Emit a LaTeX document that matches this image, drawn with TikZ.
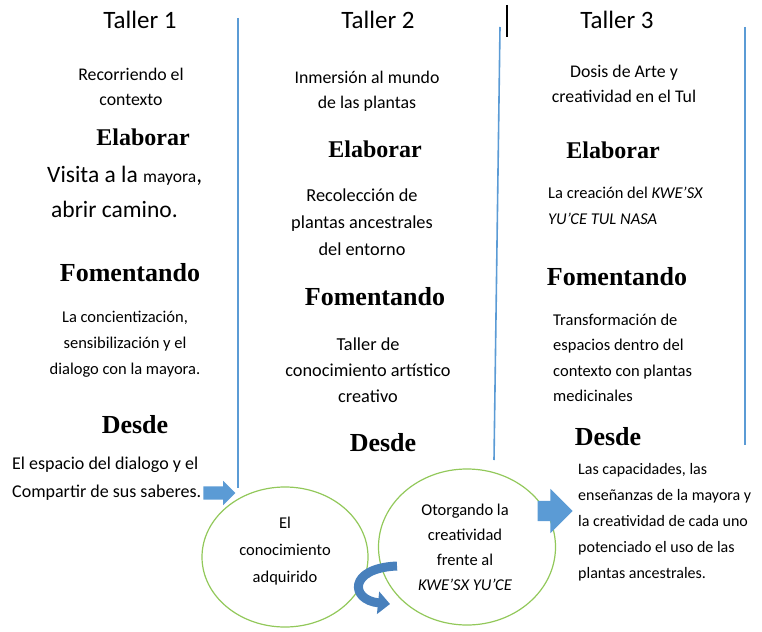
\documentclass[tikz,border=0pt]{standalone}
\usepackage{fontspec}
\setmainfont{Carlito}
\newfontfamily\headfont{Liberation Serif}
\usepackage{tikz}
\usetikzlibrary{arrows.meta}
\usetikzlibrary{shapes.geometric,shapes.arrows}
\definecolor{ruleblue}{RGB}{91,155,213}
\definecolor{bubblegreen}{RGB}{146,200,90}
\definecolor{curveblue}{RGB}{72,128,188}
\tikzstyle{Title}=[font=\fontsize{25}{30}\selectfont]
\tikzstyle{Head}=[font=\headfont\bfseries\fontsize{26}{30}\selectfont]
\tikzstyle{Sub}=[font=\fontsize{17.8}{25}\selectfont, align=center, inner sep=0pt]
\tikzstyle{Body}=[font=\fontsize{16.5}{26}\selectfont, align=center, inner sep=0pt]
\tikzstyle{BodyL}=[Body, align=left, anchor=west]
\tikzstyle{Rule}=[draw=ruleblue, line width=1.6pt]
\tikzstyle{Bubble}=[draw=bubblegreen, line width=1.2pt, shape=ellipse, inner sep=0pt]
\tikzstyle{Block}=[fill=ruleblue, shape=single arrow, single arrow head indent=0pt]
\tikzstyle{Arrow}=[-{Triangle[length=12pt,width=22pt]}]

\begin{document}
\begin{tikzpicture}[x=1pt,y=-1pt]
\useasboundingbox (0,0) rectangle (762,631);

% column rules
\draw[Rule] (238,18) -- (238,488);
\draw[Rule] (500,27) -- (494,460);
\draw[Rule] (745,27) -- (745,445);
\draw[line width=1.4pt] (507,5) -- (507,37);

% Taller 1
\node[Title] (t1) at (140,20) {Taller 1};
\node[Sub] (t1a) at (131,87) {Recorriendo el\\contexto};
\node[Head, font=\headfont\bfseries\fontsize{24}{30}\selectfont] (t1elab) at (143,137) {Elaborar};
\node[BodyL, font=\fontsize{23.5}{35}\selectfont] (t1b) at (47,192) {Visita a la {\fontsize{17.5}{20}\selectfont mayora},\\\hspace*{4pt}abrir camino.};
\node[Head] (t1fom) at (130,273) {Fomentando};
\node[Body] (t1c) at (125,344) {La concientización,\\sensibilización y el\\dialogo con la mayora.};
\node[Head] (t1des) at (135,425) {Desde};
\node[BodyL, font=\fontsize{18}{28}\selectfont] (t1d) at (12,479) {El espacio del dialogo y el\\Compartir de sus saberes.};

% Taller 2
\node[Title] (t2) at (378,20) {Taller 2};
\node[Sub] (t2a) at (367,91) {Inmersión al mundo\\de las plantas};
\node[Head, font=\headfont\bfseries\fontsize{24}{30}\selectfont] (t2elab) at (375,149) {Elaborar};
\node[Body, font=\fontsize{18.3}{27}\selectfont] (t2b) at (362,222) {Recolección de\\plantas ancestrales\\del entorno};
\node[Head] (t2fom) at (375,297) {Fomentando};
\node[Body, font=\fontsize{18.3}{26}\selectfont] (t2c) at (368,370) {Taller de\\conocimiento artístico\\creativo};
\node[Head] (t2des) at (383,443) {Desde};

% Taller 3
\node[Title] (t3) at (617,20) {Taller 3};
\node[Sub] (t3a) at (624,84) {Dosis de Arte y\\creatividad en el Tul};
\node[Head, font=\headfont\bfseries\fontsize{24}{30}\selectfont] (t3elab) at (613,150) {Elaborar};
\node[BodyL] (t3b) at (548,206) {La creación del \textit{KWE’SX}\\\textit{YU’CE TUL NASA}};
\node[Head] (t3fom) at (617,277) {Fomentando};
\node[BodyL, font=\fontsize{16.5}{25.5}\selectfont] (t3c) at (553,358) {Transformación de\\espacios dentro del\\contexto con plantas\\medicinales};
\node[Head] (t3des) at (608,437) {Desde};
\node[BodyL, font=\fontsize{16}{26}\selectfont] (t3d) at (578,522) {Las capacidades, las\\enseñanzas de la mayora y\\la creatividad de cada uno\\potenciado el uso de las\\plantas ancestrales.};

% bubbles
\node[Bubble, minimum width=166pt, minimum height=140pt] (bubA) at (285,557) {};
\node[Body, font=\fontsize{16.5}{27}\selectfont] (bubAtxt) at (285,551) {El\\conocimiento\\adquirido};
\node[Bubble, minimum width=177pt, minimum height=156pt] (bubB) at (467,547) {};
\node[Body, font=\fontsize{16.5}{25}\selectfont] (bubBtxt) at (465,547) {Otorgando la\\creatividad\\frente al\\\textit{KWE’SX YU’CE}};

% block arrows
\node[Block, inner sep=6.5pt, minimum height=32pt, single arrow head extend=5.5pt] (arrA) at (216,493) {};
\node[Block, inner sep=10pt, minimum height=35pt, single arrow head extend=12pt] (arrB) at (550,511) {};

% curved arrow between the bubbles
\coordinate (curS) at (397,566);
\coordinate (curE) at (390,604);
\draw[Arrow, curveblue, line width=9pt] (curS) .. controls (348,568) and (350,600) .. (curE);

\end{tikzpicture}
\end{document}
